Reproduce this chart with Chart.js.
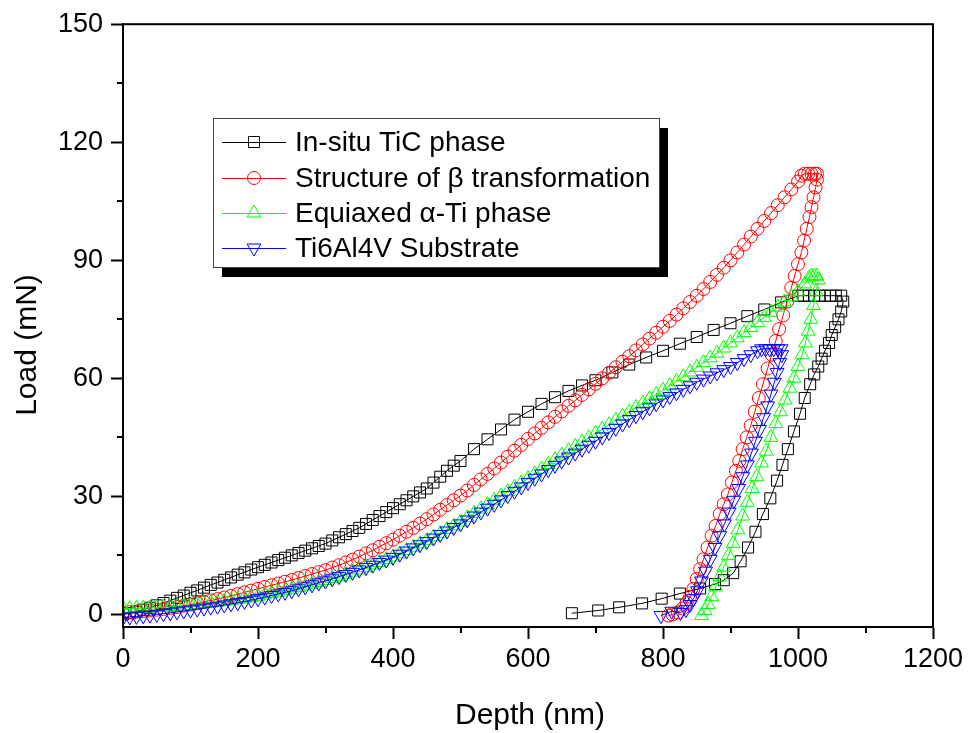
<!DOCTYPE html>
<html><head><meta charset="utf-8">
<script src="https://cdn.jsdelivr.net/npm/chart.js@4.4.1/dist/chart.umd.min.js"></script>
<style>html,body{margin:0;padding:0;background:#fff;}canvas{display:block;}</style>
</head><body>
<canvas id="c" width="970" height="733"></canvas>
<script>
const seriesNames = ["In-situ TiC phase", "Structure of \u03B2 transformation", "Equiaxed \u03B1-Ti phase", "Ti6Al4V Substrate"];
const xTicks = [0, 200, 400, 600, 800, 1000, 1200];
const xMinorTicks = [100, 300, 500, 700, 900, 1100];
const yTicks = [0, 30, 60, 90, 120, 150];
const yMinorTicks = [15, 45, 75, 105, 135];

// [depth (nm), load (mN)]
const ticCurve = [[0,0],[10,0.3],[20,0.7],[30,1.2],[40,1.7],[50,2.3],[60,2.9],[70,3.5],[80,4.2],[90,4.8],[100,5.5],[110,6.1],[120,6.8],[130,7.5],[140,8.1],[150,8.8],[160,9.4],[170,10.1],[180,10.7],[190,11.4],[200,12],[210,12.6],[220,13.2],[230,13.8],[240,14.4],[250,15],[260,15.6],[270,16.2],[280,16.8],[290,17.4],[300,18],[310,18.8],[320,19.6],[330,20.4],[340,21.2],[350,22],[360,23],[370,24],[380,25],[390,26],[400,27],[410,28],[420,29],[430,30],[440,31],[450,32],[460,33.5],[470,35],[480,36.5],[490,37.8],[500,39],[520,42],[540,44.5],[560,47],[580,49.5],[600,51.5],[620,53.5],[640,55.2],[660,56.8],[680,58.2],[700,59.5],[725,61.5],[750,63.5],[775,65.3],[800,67],[825,68.8],[850,70.5],[875,72.3],[900,74],[925,75.8],[950,77.5],[975,79.3],[1000,81],
[1008,81],[1016,81],[1024,81],[1032,81],[1040,81],[1048,81],[1056,81],[1064,81],
[1067,79.5],[1064,77],[1060,75],[1055,73],[1050,71],[1046,69],[1040,67],[1035,65],[1030,63],[1024,61],[1018,58.5],[1010,55],[1003,51],[994,46.5],[985,42],[977,38],[969,34],[959,29.5],[948,25.5],[937,21],[926,17],[915,13.5],[904,10.5],[890,8.7],[877,7.7],[855,6.6],[825,5.3],[798,4],[769,2.8],[735,1.8],[704,1],[665,0.3]];

const betaCurve = [[0,0.5],[10,0.6],[20,0.7],[30,0.85],[40,1],[50,1.2],[60,1.4],[70,1.65],[80,1.9],[90,2.2],[100,2.5],[110,2.85],[120,3.2],[130,3.55],[140,3.9],[150,4.3],[160,4.7],[170,5.15],[180,5.6],[190,6.05],[200,6.5],[210,6.95],[220,7.4],[230,7.85],[240,8.3],[250,8.75],[260,9.25],[270,9.75],[280,10.25],[290,10.75],[300,11.25],[310,11.9],[320,12.5],[330,13.2],[340,13.9],[350,14.7],[360,15.5],[370,16.3],[380,17.2],[390,18.1],[400,19],[410,20],[420,21],[430,22],[440,23.1],[450,24.2],[460,25.4],[470,26.6],[480,27.8],[490,29],[500,30.2],[510,31.5],[520,32.9],[530,34.3],[540,35.7],[550,37.1],[560,38.6],[570,40.1],[580,41.6],[590,43.1],[600,44.6],[610,46],[620,47.4],[630,48.8],[640,50.2],[650,51.6],[660,53],[670,54.4],[680,55.8],[690,57.2],[700,58.6],[710,60],[720,61.4],[730,62.8],[740,64.2],[750,65.6],[760,67.1],[770,68.6],[780,70.1],[790,71.6],[800,73.1],[810,74.6],[820,76.2],[830,77.8],[840,79.4],[850,81],[860,82.7],[870,84.5],[880,86.3],[890,88.1],[900,90],[910,92],[920,94],[930,96],[940,98],[950,100],[960,102],[970,104],[980,106],[990,108],[1000,110],[1005,111.5],
[1010,112],[1015,112],[1020,112],[1025,112],[1028,112],
[1028,110.5],[1026,108.5],[1023,106],[1020,103.5],[1017,101],[1013,98],[1009,95],[1005,92],[1000,89],[995,86],[990,83],[984,79.5],[978,76],[972,72.5],[967,69.5],[961,66],[955,62.5],[948,58.5],[942,55],[936,51.5],[930,48],[924,45],[918,42],[913,39],[908,36.5],[902,33.5],[896,30.5],[890,28],[884,25.5],[878,22.5],[872,20],[866,17],[860,14],[855,11.5],[850,9],[845,6.5],[840,4.5],[835,3],[829,1.5],[822,0.5],[814,0],[808,-0.3]];

const alphaCurve = [[0,1.5],[10,1.5],[20,1.55],[30,1.6],[40,1.65],[50,1.7],[60,1.8],[70,1.9],[80,2],[90,2.15],[100,2.3],[110,2.5],[120,2.7],[130,2.9],[140,3.1],[150,3.3],[160,3.55],[170,3.8],[180,4.05],[190,4.3],[200,4.6],[210,4.95],[220,5.3],[230,5.65],[240,6],[250,6.4],[260,6.8],[270,7.2],[280,7.7],[290,8.15],[300,8.6],[310,9.1],[320,9.6],[330,10.2],[340,10.75],[350,11.3],[360,11.9],[370,12.6],[380,13.2],[390,13.9],[400,14.6],[410,15.4],[420,16.2],[430,17.1],[440,17.9],[450,18.8],[460,19.7],[470,20.6],[480,21.6],[490,22.5],[500,23.5],[510,24.6],[520,25.7],[530,26.8],[540,27.9],[550,29],[560,30.1],[570,31.2],[580,32.3],[590,33.4],[600,34.5],[610,35.7],[620,36.9],[630,38.1],[640,39.3],[650,40.5],[660,41.6],[670,42.7],[680,43.8],[690,44.9],[700,46],[710,47.1],[720,48.2],[730,49.3],[740,50.4],[750,51.5],[760,52.6],[770,53.7],[780,54.8],[790,55.9],[800,57],[810,58.1],[820,59.2],[830,60.4],[840,61.6],[850,62.8],[860,64],[870,65.2],[880,66.4],[890,67.7],[900,69],[910,70.3],[920,71.6],[930,72.9],[940,74.2],[950,75.5],[960,76.8],[970,78.1],[980,79.4],[990,80.7],[1000,82],[1010,84],
[1016,85.5],[1020,86],[1024,86],[1028,86],
[1030,85],[1027,82],[1023,78.5],[1019,75],[1015,72],[1011,69],[1006,66],[1000,63],[994,60],[988,57.5],[981,54.5],[974,51.5],[967,48.5],[960,45],[953,41.5],[946,38.5],[939,35],[932,32],[925,28.5],[918,25],[911,21.5],[904,18],[897,15],[890,12],[884,9.5],[878,7],[872,4.5],[867,2.5],[862,1],[857,-0.3]];

const substrateCurve = [[0,-0.8],[10,-0.65],[20,-0.5],[30,-0.35],[40,-0.2],[50,0],[60,0.2],[70,0.4],[80,0.65],[90,0.9],[100,1.1],[110,1.35],[120,1.6],[130,1.85],[140,2.1],[150,2.4],[160,2.7],[170,3],[180,3.3],[190,3.65],[200,4],[210,4.4],[220,4.8],[230,5.2],[240,5.6],[250,6],[260,6.5],[270,7],[280,7.5],[290,8],[300,8.5],[310,9.05],[320,9.6],[330,10.15],[340,10.7],[350,11.3],[360,11.9],[370,12.5],[380,13.2],[390,13.8],[400,14.5],[410,15.3],[420,16.1],[430,16.9],[440,17.7],[450,18.5],[460,19.4],[470,20.3],[480,21.2],[490,22.1],[500,23],[510,24],[520,25],[530,26],[540,27],[550,28],[560,29.1],[570,30.2],[580,31.3],[590,32.4],[600,33.5],[610,34.6],[620,35.7],[630,36.8],[640,37.9],[650,39],[660,40],[670,41],[680,42],[690,43],[700,44],[710,45.1],[720,46.2],[730,47.3],[740,48.4],[750,49.5],[760,50.5],[770,51.5],[780,52.5],[790,53.5],[800,54.5],[810,55.4],[820,56.3],[830,57.2],[840,58.1],[850,59],[860,59.8],[870,60.6],[880,61.4],[890,62.2],[900,63],[910,64],[920,65],[930,66],[940,67],
[946,67.5],[952,67.5],[958,67.5],[964,67.5],[970,67.5],[975,67.5],
[976,66],[973,64],[969,61.5],[965,59],[960,56],[955,53],[949,50],[943,47],[937,44],[931,41],[925,38],[918,35],[912,32],[905,29],[898,26],[891,23],[884,20],[877,17],[870,14],[863,11],[857,8.5],[851,6],[845,4],[840,2.5],[834,1.2],[826,0.5],[813,0.8],[797,-0.3]];

const FONT = "'Liberation Sans', Arial, Helvetica, sans-serif";
const colors = ['#000000', '#ff0000', '#00ff00', '#0000ff'];
const styles = [
  {pointStyle:'rect', radius:7.8, rotation:0},
  {pointStyle:'circle', radius:6.5, rotation:0},
  {pointStyle:'triangle', radius:8, rotation:0},
  {pointStyle:'triangle', radius:8, rotation:180}
];
const curves = [ticCurve, betaCurve, alphaCurve, substrateCurve];
const orders = [3, 2, 1, 0];

const datasets = curves.map((c, i) => ({
  label: seriesNames[i],
  data: c.map(p => ({x: p[0], y: p[1]})),
  borderColor: colors[i],
  borderWidth: 1,
  backgroundColor: 'rgba(0,0,0,0)',
  pointBackgroundColor: 'rgba(0,0,0,0)',
  pointBorderColor: colors[i],
  pointBorderWidth: 1,
  pointStyle: styles[i].pointStyle,
  pointRadius: styles[i].radius,
  pointRotation: styles[i].rotation,
  pointHoverRadius: styles[i].radius,
  showLine: true,
  tension: 0,
  order: orders[i]
}));

function drawMarker(ctx, style, x, y, r, rot) {
  ctx.beginPath();
  if (style === 'rect') {
    const s = r * Math.SQRT1_2;
    ctx.rect(x - s, y - s, 2 * s, 2 * s);
  } else if (style === 'circle') {
    ctx.arc(x, y, r, 0, Math.PI * 2);
  } else {
    let a = rot * Math.PI / 180;
    ctx.moveTo(x + Math.sin(a) * r, y - Math.cos(a) * r);
    a += 2 * Math.PI / 3;
    ctx.lineTo(x + Math.sin(a) * r, y - Math.cos(a) * r);
    a += 2 * Math.PI / 3;
    ctx.lineTo(x + Math.sin(a) * r, y - Math.cos(a) * r);
    ctx.closePath();
  }
  ctx.stroke();
}

const decor = {
  id: 'decor',
  afterDraw(chart) {
    const {ctx, chartArea: a, scales: {x, y}} = chart;
    ctx.save();
    ctx.strokeStyle = '#000';
    ctx.lineWidth = 2;
    ctx.strokeRect(a.left, a.top, a.right - a.left, a.bottom - a.top);
    ctx.beginPath();
    xMinorTicks.forEach(v => { const px = Math.round(x.getPixelForValue(v)); ctx.moveTo(px, a.bottom); ctx.lineTo(px, a.bottom + 6); });
    yMinorTicks.forEach(v => { const py = Math.round(y.getPixelForValue(v)); ctx.moveTo(a.left, py); ctx.lineTo(a.left - 6, py); });
    ctx.stroke();

    // axis titles
    ctx.fillStyle = '#000';
    ctx.font = "30px " + FONT;
    ctx.textAlign = 'center';
    ctx.textBaseline = 'alphabetic';
    ctx.fillText('Depth (nm)', 530, 724);
    ctx.save();
    ctx.translate(36, 345);
    ctx.rotate(-Math.PI / 2);
    ctx.fillText('Load (mN)', 0, 0);
    ctx.restore();

    // legend
    const bx = 213, by = 118, bw = 446, bh = 149;
    ctx.fillStyle = '#000';
    ctx.fillRect(bx + 9, by + 10, bw, bh);
    ctx.fillStyle = '#fff';
    ctx.fillRect(bx, by, bw, bh);
    ctx.lineWidth = 1;
    ctx.strokeStyle = '#444';
    ctx.strokeRect(bx + 0.5, by + 0.5, bw, bh);
    const rows = [142, 178, 213, 248];
    ctx.font = "28px " + FONT;
    ctx.textAlign = 'left';
    ctx.textBaseline = 'middle';
    rows.forEach((ry, i) => {
      ctx.strokeStyle = colors[i];
      ctx.lineWidth = 1;
      ctx.beginPath();
      ctx.moveTo(222, ry + 0.5); ctx.lineTo(286, ry + 0.5);
      ctx.stroke();
      drawMarker(ctx, styles[i].pointStyle, 254, ry, styles[i].radius, styles[i].rotation);
      ctx.fillStyle = '#000';
      ctx.fillText(seriesNames[i], 295, ry + 1);
    });
    ctx.restore();
  }
};

new Chart(document.getElementById('c'), {
  type: 'line',
  data: {datasets},
  plugins: [decor],
  options: {
    responsive: false,
    animation: false,
    devicePixelRatio: 1,
    layout: {padding: {top: 23, right: 37, left: 0, bottom: 0}},
    plugins: {legend: {display: false}, tooltip: {enabled: false}, title: {display: false}},
    scales: {
      x: {
        type: 'linear', min: 0, max: 1200,
        afterBuildTicks: s => { s.ticks = xTicks.map(v => ({value: v})); },
        afterFit: s => { s.height = 106; },
        ticks: {font: {family: FONT, size: 27}, color: '#000', padding: 4, maxRotation: 0, autoSkip: false, callback: v => String(v)},
        grid: {display: true, drawOnChartArea: false, drawTicks: true, tickLength: 12, tickWidth: 2, tickColor: '#000'},
        border: {display: true, color: '#000', width: 2}
      },
      y: {
        type: 'linear', min: -3.2, max: 150,
        afterBuildTicks: s => { s.ticks = yTicks.map(v => ({value: v})); },
        afterFit: s => { s.width = 123; },
        ticks: {font: {family: FONT, size: 27}, color: '#000', padding: 8, autoSkip: false, callback: v => String(v)},
        grid: {display: true, drawOnChartArea: false, drawTicks: true, tickLength: 12, tickWidth: 2, tickColor: '#000'},
        border: {display: true, color: '#000', width: 2}
      }
    }
  }
});
</script>
</body></html>
